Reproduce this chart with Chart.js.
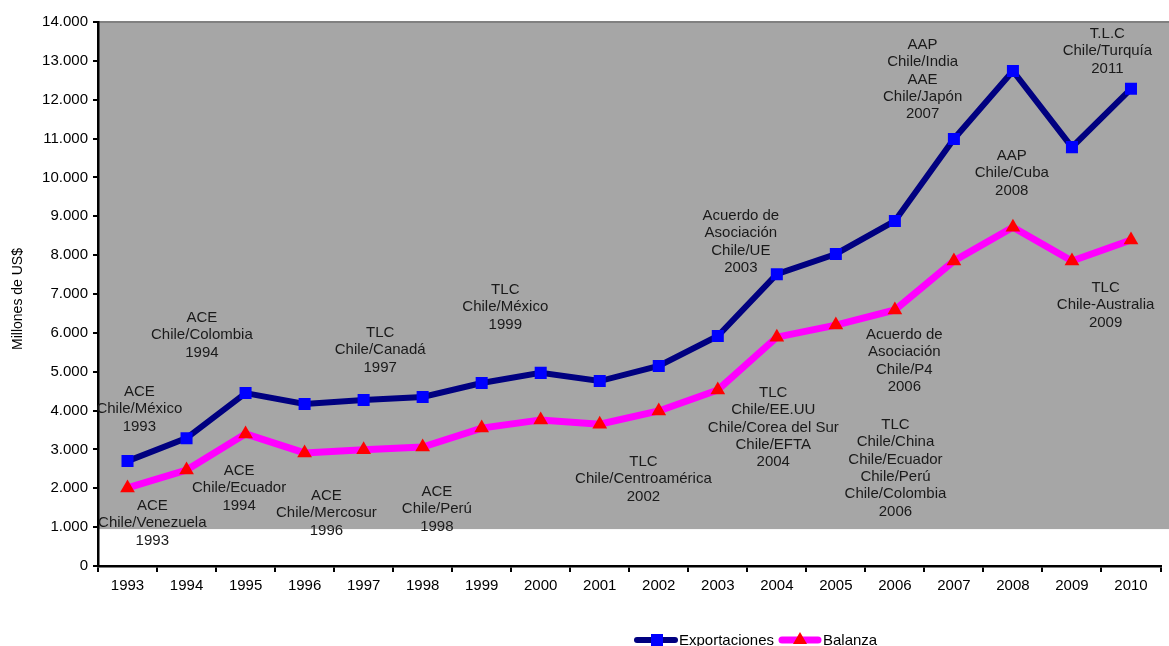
<!DOCTYPE html>
<html><head><meta charset="utf-8">
<script src="https://cdn.jsdelivr.net/npm/chart.js@4/dist/chart.umd.min.js"></script>
<style>html,body{margin:0;padding:0;background:#fff;}#wrap{width:1169px;height:646px;position:relative;}</style>
</head><body><div id="wrap"><canvas id="c" width="1169" height="646"></canvas></div>
<script>
const years = ["1993","1994","1995","1996","1997","1998","1999","2000","2001","2002","2003","2004","2005","2006","2007","2008","2009","2010"];
const exportaciones = [2700,3290,4450,4170,4270,4350,4710,4970,4760,5150,5920,7510,8030,8880,10990,12740,10780,12280];
const balanza = [2010,2470,3400,2910,2990,3060,3550,3760,3650,3990,4530,5890,6200,6590,7850,8720,7850,8390];
const yTicks = [0,1000,2000,3000,4000,5000,6000,7000,8000,9000,10000,11000,12000,13000,14000];
const notes = [
  {x:0.20,y:4478,t:["ACE","Chile/México","1993"]},
  {x:1.26,y:6382,t:["ACE","Chile/Colombia","1994"]},
  {x:0.42,y:1544,t:["ACE","Chile/Venezuela","1993"]},
  {x:1.89,y:2445,t:["ACE","Chile/Ecuador","1994"]},
  {x:3.37,y:1801,t:["ACE","Chile/Mercosur","1996"]},
  {x:4.28,y:5996,t:["TLC","Chile/Canadá","1997"]},
  {x:5.24,y:1904,t:["ACE","Chile/Perú","1998"]},
  {x:6.40,y:7103,t:["TLC","Chile/México","1999"]},
  {x:8.74,y:2676,t:["TLC","Chile/Centroamérica","2002"]},
  {x:10.39,y:9007,t:["Acuerdo de","Asociación","Chile/UE","2003"]},
  {x:10.94,y:4452,t:["TLC","Chile/EE.UU","Chile/Corea del Sur","Chile/EFTA","2004"]},
  {x:13.16,y:5945,t:["Acuerdo de","Asociación","Chile/P4","2006"]},
  {x:13.01,y:3629,t:["TLC","Chile/China","Chile/Ecuador","Chile/Perú","Chile/Colombia","2006"]},
  {x:13.47,y:13408,t:["AAP","Chile/India","AAE","Chile/Japón","2007"]},
  {x:14.98,y:10551,t:["AAP","Chile/Cuba","2008"]},
  {x:16.60,y:13691,t:["T.L.C","Chile/Turquía","2011"]},
  {x:16.57,y:7154,t:["TLC","Chile-Australia","2009"]}
];
const FONT = '"Liberation Sans", Arial, sans-serif';

const bgPlugin = {
  id:'bg',
  beforeDraw(chart){
    const {ctx, chartArea:a, scales:{y}} = chart;
    ctx.save();
    const yb = y.getPixelForValue(950);
    ctx.fillStyle = '#A6A6A6';
    ctx.fillRect(a.left, a.top, chart.width - a.left, yb - a.top);
    ctx.strokeStyle = '#808080';
    ctx.lineWidth = 2;
    ctx.beginPath(); ctx.moveTo(a.left, a.top); ctx.lineTo(chart.width, a.top); ctx.stroke();
    ctx.restore();
  },
  beforeDatasetsDraw(chart){
    const {ctx, scales:{x:xs, y}} = chart;
    ctx.save();
    ctx.fillStyle = '#1a1a1a';
    ctx.font = '15px ' + FONT;
    ctx.textAlign = 'center';
    ctx.textBaseline = 'middle';
    notes.forEach(n=>{
      const px = xs.getPixelForValue(n.x);
      const py = y.getPixelForValue(n.y);
      n.t.forEach((line,i)=>ctx.fillText(line, px, py + i*17.3));
    });
    ctx.restore();
  },
  afterDraw(chart){
    const {ctx} = chart;
    ctx.save();
    ctx.fillStyle = '#000';
    ctx.font = '14px ' + FONT;
    ctx.translate(18, 299);
    ctx.rotate(-Math.PI/2);
    ctx.textAlign = 'center'; ctx.textBaseline = 'middle';
    ctx.fillText('Millones de US$', 0, 0);
    ctx.restore();
    // legend
    ctx.save();
    const ly = 640;
    ctx.lineCap = 'round';
    ctx.strokeStyle = '#000080'; ctx.lineWidth = 6;
    ctx.beginPath(); ctx.moveTo(637, ly); ctx.lineTo(675, ly); ctx.stroke();
    ctx.fillStyle = '#0000FF'; ctx.fillRect(651, ly-6, 12, 12);
    ctx.strokeStyle = '#FF00FF'; ctx.lineWidth = 7;
    ctx.beginPath(); ctx.moveTo(782, ly); ctx.lineTo(818, ly); ctx.stroke();
    ctx.fillStyle = '#FF0000';
    ctx.beginPath(); ctx.moveTo(800, ly-8); ctx.lineTo(807, ly+4); ctx.lineTo(793, ly+4); ctx.closePath(); ctx.fill();
    ctx.fillStyle = '#000';
    ctx.font = '15px ' + FONT;
    ctx.textAlign = 'left'; ctx.textBaseline = 'middle';
    ctx.fillText('Exportaciones', 679, ly+1);
    ctx.fillText('Balanza', 823, ly+1);
    ctx.restore();
  }
};

new Chart(document.getElementById('c'), {
  type:'line',
  data:{
    labels: years,
    datasets:[
      {label:'Exportaciones', data:exportaciones, borderColor:'#000080', borderWidth:6, pointStyle:'rect', pointRadius:8.5, pointHoverRadius:8.5, pointBackgroundColor:'#0000FF', pointBorderColor:'#0000FF', pointBorderWidth:0, tension:0},
      {label:'Balanza', data:balanza, borderColor:'#FF00FF', borderWidth:7, pointStyle:'triangle', pointRadius:8.5, pointHoverRadius:8.5, pointBackgroundColor:'#FF0000', pointBorderColor:'#FF0000', pointBorderWidth:0, tension:0}
    ]
  },
  options:{
    responsive:false, animation:false,
    layout:{padding:{top:22, right:1, left:0, bottom:0}},
    plugins:{legend:{display:false}, tooltip:{enabled:false}},
    scales:{
      x:{
        offset:true,
        grid:{offset:true, drawOnChartArea:false, drawTicks:true, tickLength:6, color:'#000', lineWidth:2},
        border:{display:true, color:'#000', width:2.5},
        ticks:{color:'#000', font:{family:FONT, size:15}, padding:5, maxRotation:0, autoSkip:false},
        afterFit(s){ s.height = 80; }
      },
      y:{
        min:0, max:14000,
        afterBuildTicks(s){ s.ticks = yTicks.map(v=>({value:v})); },
        grid:{drawOnChartArea:false, drawTicks:true, tickLength:5, color:'#000', lineWidth:2},
        border:{display:true, color:'#000', width:2.5},
        ticks:{color:'#000', font:{family:FONT, size:15}, padding:5,
          callback:v=> v===0 ? '0' : String(v).replace(/\B(?=(\d{3})+(?!\d))/g,'.')},
        afterFit(s){ s.width = 98; }
      }
    }
  },
  plugins:[bgPlugin]
});
</script></body></html>
